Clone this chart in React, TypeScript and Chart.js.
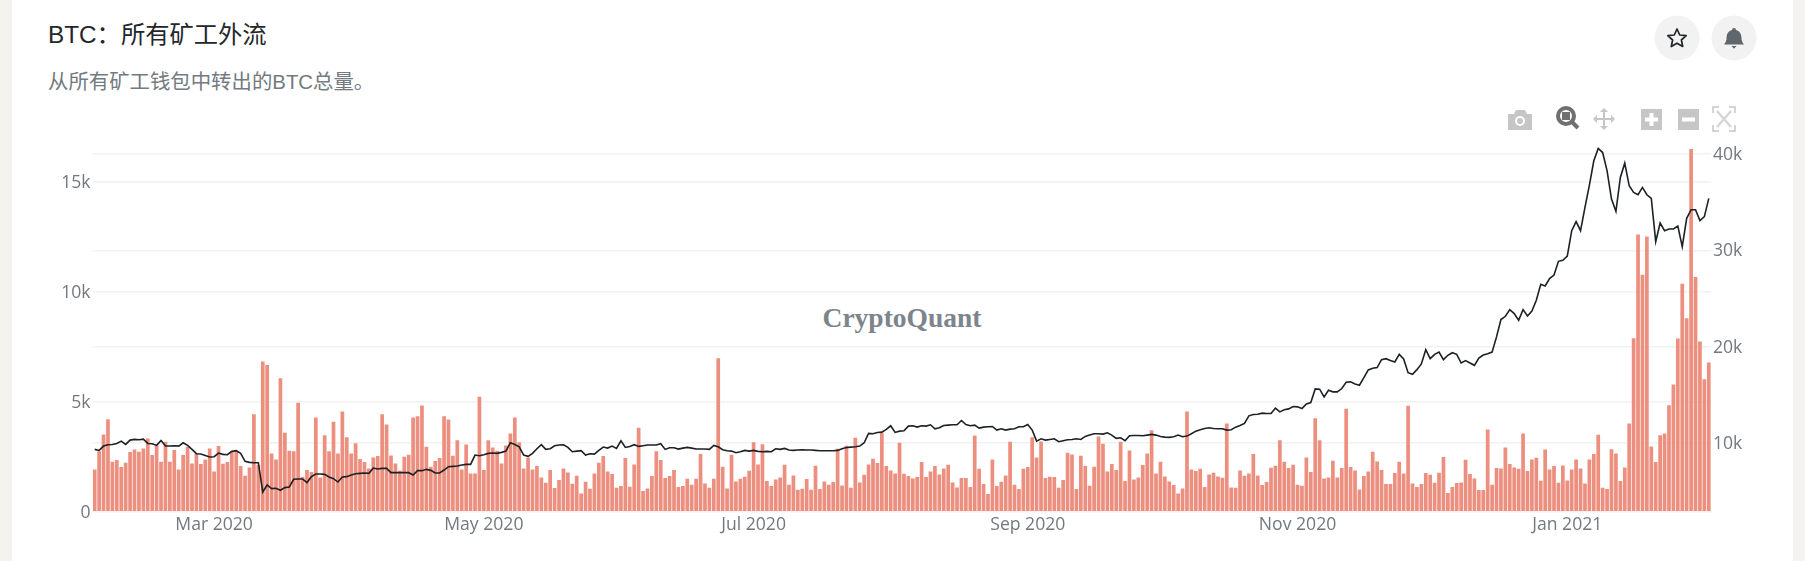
import React, { useEffect, useRef } from "react";
import { Chart, registerables } from "chart.js";

Chart.register(...registerables);

const titleText = "BTC：所有矿工外流";
const subtitleText = "从所有矿工钱包中转出的BTC总量。";
const watermarkText = "CryptoQuant";

const startDate = "2020-02-03";

const outflowValues = [
  1924,2757,3515,4212,2273,2348,2030,2227,2712,2833,2727,2879,3333,2576,3030,2273,3182,2273,2803,1924,2576,2954,2197,2651,2166,2379,2879,1833,2985,2182,2257,2727,2757,2076,1636,2015,4439,2121,6833,6681,2651,2379,6075,3591,2772,2757,4954,1591,1894,1803,4287,1560,3485,2757,4091,2651,4560,3394,2651,3121,2394,2257,1970,2469,2530,4439,3969,2560,2197,1863,2500,2591,4287,4348,4833,2954,2045,2303,2439,4348,4197,2545,3257,1924,3060,1742,1742,5227,
  1894,3257,2924,2772,2197,3015,3560,4287,3166,1970,2469,1924,2076,1560,1318,1894,1076,1439,1970,1788,1273,1636,833,1364,1045,1742,2227,2530,1833,1712,1091,1167,2439,1136,2151,3818,939,1061,1621,2757,2348,1530,1621,1894,1121,1167,1500,1227,1500,2621,1288,1091,1500,6984,2045,1061,2591,1379,1500,1591,1863,3166,2151,3075,1394,1167,1470,1560,2136,1227,1651,1000,1045,1485,1000,2091,1030,1379,1227,1348,2863,1197,3000,1091,3363,1333,1682,2151,2409,2212,
  3591,2076,1879,1742,3136,1727,1621,1515,1576,2257,1576,1833,2076,1697,1970,2136,1333,1106,1530,1530,1121,3469,1954,1257,803,2379,1167,1364,1651,3182,1227,1030,1954,2030,3394,2469,3197,1530,1591,1576,1091,1439,2682,2606,1030,2545,2076,1182,2045,3424,3091,1833,2166,1894,3182,1394,2788,1470,1560,2121,2651,3712,1742,2273,1606,1379,1212,833,1061,4560,1924,1848,1954,1121,1697,1773,1606,1545,4015,1106,1091,1879,1636,1742,2621,1651,1212,1348,2000,2091,
  3257,2273,1985,2136,1227,1182,2469,1803,4257,3257,1515,1560,2318,1560,1985,4681,2030,1879,1015,1621,1833,2727,2288,1894,1257,1257,1757,2273,1742,4818,1288,1121,1257,1757,1682,1318,1773,2485,848,1121,1303,1333,2363,1712,1515,985,985,3742,1227,1985,1970,2924,2166,2015,1954,3560,1848,
  2379,2454,1409,2833,1924,2076,1318,2106,1424,1924,2379,1970,1288,2379,2621,3500,1091,1030,2848,2651,1394,2015,4015,7893,12620,10787,12529,2969,2257,3485,3560,4848,5787,7878,10378,8802,16514,10681,7742,6030,6787,
];

const priceValues = [
  9345,9240,9690,9830,9860,9965,10200,9860,10310,10380,10345,10415,9965,9930,9760,10275,9690,9690,9725,9690,10035,9760,9345,8900,8860,8720,8550,8585,8965,8830,8795,9140,9210,8930,8100,8000,7965,7965,4930,5650,5270,5310,5100,5380,5450,6240,6275,6275,5900,6515,6790,6790,6755,6480,6310,5960,6480,6515,6690,6825,6860,6895,6860,7410,7310,7380,7380,6930,6930,6930,6930,6930,6690,7140,7140,7275,7170,6895,6895,7205,7550,7585,7620,7725,7790,7790,8760,8690,
  8790,8930,8965,8930,9035,9170,10035,9860,9620,8760,8620,8930,9410,9830,9345,9410,9725,9795,9830,9550,9100,9170,9210,8760,8900,8860,9240,9585,9480,9690,9450,10240,9550,9655,9830,9655,9725,9795,9795,9795,9930,9345,9515,9515,9380,9480,9550,9480,9380,9380,9380,9345,9760,9620,9310,9205,9170,9000,9100,9240,9170,9240,9140,9100,9140,9100,9410,9345,9450,9275,9240,9275,9310,9275,9275,9240,9205,9205,9205,9205,9240,9415,9550,9585,9620,9690,10035,11000,10965,11100,
  11140,11415,11795,11105,11240,11275,11760,11795,11655,11795,11760,11900,11480,11590,11830,11865,11900,11900,12345,11930,11795,11865,11550,11655,11690,11725,11345,11480,11345,11450,11480,11690,11690,11930,11345,10205,10450,10310,10380,10450,10140,10240,10345,10380,10450,10380,10690,10830,10965,10965,10930,11070,10830,10485,10550,10240,10760,10795,10795,10760,10830,10900,10830,10690,10620,10590,10655,10830,10655,10725,10965,11240,11380,11520,11590,11520,11485,11485,11345,11380,11655,11830,12035,12830,12970,13000,13105,13070,13070,13620,
  13240,13450,13550,13795,13760,13590,14070,14210,15625,15590,14795,15485,15315,15315,15660,16310,16350,16140,16000,16800,17590,17760,17830,18660,18760,18560,18420,19210,18730,17310,17140,17620,18210,19690,18760,19210,19450,18660,19110,19380,19210,18310,18560,18310,18070,18830,19140,19280,19450,21020,22820,23160,23850,23440,22750,23850,23190,
  23710,24820,26480,26300,27070,27440,28860,28960,29400,32045,32980,32045,34460,36770,39290,40570,40150,38255,35325,34050,37565,39050,36700,36010,35770,36530,35770,35390,30900,32840,32045,32220,32220,32530,30390,33320,34220,34220,33080,33500,35390,
];

const dayLabels = outflowValues.map((_, i) => {
  const d = new Date(startDate + "T00:00:00Z");
  d.setUTCDate(d.getUTCDate() + i);
  return d.toISOString().slice(0, 10);
});

const xTickDates = ["2020-03-01", "2020-05-01", "2020-07-01", "2020-09-01", "2020-11-01", "2021-01-01"];
const xTickLabels = ["Mar 2020", "May 2020", "Jul 2020", "Sep 2020", "Nov 2020", "Jan 2021"];
const leftTicks = [0, 5000, 10000, 15000];
const leftTickLabels = ["0", "5k", "10k", "15k"];
const rightTicks = [10000, 20000, 30000, 40000];
const rightTickLabels = ["10k", "20k", "30k", "40k"];

const leftMax = 16623;
const rightMin = 2880;
const rightMax = 40777;

const tickFont = { family: "'Open Sans'", size: 17.6 };
const tickColor = "#72797f";
const gridColor = "#f2f2f2";

const iconGrey = "#c6c6c6";

function Toolbar() {
  const s: React.CSSProperties = { position: "absolute", left: 0, top: 0 };
  return (
    <svg width={1805} height={561} style={s}>
      {/* favourite and alert buttons */}
      <circle cx={1677} cy={38} r={22.5} fill="#f2f2f2" />
      <circle cx={1734} cy={38} r={22.5} fill="#f2f2f2" />
      <polygon
        points="1677,29 1679.7,35 1686.2,35.7 1681.4,40 1682.7,46.5 1677,43.2 1671.3,46.5 1672.6,40 1667.8,35.7 1674.3,35"
        fill="none"
        stroke="#22262a"
        strokeWidth={1.7}
        strokeLinejoin="round"
      />
      <path
        d="M1734 28 a2 2 0 0 1 2 2 c3.6 1 5.4 3.9 5.4 7.3 c0 3.6 1 5.4 2.6 7.2 h-20 c1.6 -1.8 2.6 -3.6 2.6 -7.2 c0 -3.4 1.8 -6.3 5.4 -7.3 a2 2 0 0 1 2 -2 z M1731.5 46 h5 l-2.5 2.8 z"
        fill="#5f666c"
      />
      {/* camera */}
      <path
        d="M1508 114 h6 l2 -4 h9 l2 4 h5 v16 h-24 z"
        fill={iconGrey}
      />
      <circle cx={1520} cy={121} r={5} fill="#fff" />
      <circle cx={1520} cy={121} r={3} fill={iconGrey} />
      {/* zoom, active */}
      <circle cx={1566} cy={116} r={8} fill="none" stroke="#707070" strokeWidth={4} />
      <rect x={1562} y={112} width={8} height={8} fill="#707070" />
      <line x1={1572} y1={122} x2={1578} y2={128} stroke="#707070" strokeWidth={4} />
      {/* pan */}
      <path
        d="M1604 108 l4 4 h-3 v6 h6 v-3 l4 4 l-4 4 v-3 h-6 v6 h3 l-4 4 l-4 -4 h3 v-6 h-6 v3 l-4 -4 l4 -4 v3 h6 v-6 h-3 z"
        fill={iconGrey}
      />
      {/* zoom in */}
      <rect x={1641} y={109} width={21} height={21} fill={iconGrey} />
      <rect x={1645} y={117.5} width={13} height={4} fill="#fff" />
      <rect x={1649.5} y={113} width={4} height={13} fill="#fff" />
      {/* zoom out */}
      <rect x={1678} y={109} width={21} height={21} fill={iconGrey} />
      <rect x={1682} y={117.5} width={13} height={4} fill="#fff" />
      {/* autoscale */}
      <path
        d="M1713 113 v-6 h6 M1729 107 h6 v6 M1735 125 v6 h-6 M1719 131 h-6 v-6"
        fill="none"
        stroke={iconGrey}
        strokeWidth={1.5}
      />
      <path d="M1717 111 L1731 127 M1731 111 L1717 127" stroke="#d6d6d6" strokeWidth={2.5} />
    </svg>
  );
}

export default function App() {
  const ref = useRef<HTMLCanvasElement | null>(null);

  useEffect(() => {
    document.body.style.margin = "0";
    const chart = new Chart(ref.current as HTMLCanvasElement, {
      type: "bar",
      data: {
        labels: dayLabels,
        datasets: [
          {
            type: "line",
            label: "BTC Price",
            data: priceValues,
            yAxisID: "y2",
            borderColor: "#1d2124",
            borderWidth: 1.6,
            pointRadius: 0,
            tension: 0,
            order: 0,
          },
          {
            type: "bar",
            label: "Outflow",
            data: outflowValues,
            yAxisID: "y",
            backgroundColor: "#ec8f7f",
            barPercentage: 0.84,
            categoryPercentage: 1,
            order: 1,
          },
        ],
      },
      options: {
        animation: false,
        responsive: false,
        maintainAspectRatio: false,
        layout: { padding: { top: 146.5, left: 0, right: 0, bottom: 0 } },
        plugins: { legend: { display: false }, tooltip: { enabled: false }, title: { display: false } },
        scales: {
          x: {
            type: "category",
            offset: true,
            grid: { display: false, drawTicks: false },
            border: { display: false },
            afterBuildTicks: (s: any) => {
              s.ticks = xTickDates.map((d) => ({ value: dayLabels.indexOf(d) }));
            },
            afterFit: (s: any) => {
              s.height = 49.3;
            },
            ticks: {
              autoSkip: false,
              maxRotation: 0,
              minRotation: 0,
              padding: 3,
              font: tickFont,
              color: tickColor,
              callback: (v: any) => xTickLabels[xTickDates.indexOf(dayLabels[v])],
            },
          },
          y: {
            position: "left",
            min: 0,
            max: leftMax,
            grid: { color: gridColor, lineWidth: 1.5, drawTicks: false },
            border: { display: false },
            afterBuildTicks: (s: any) => {
              s.ticks = leftTicks.map((value) => ({ value }));
            },
            afterFit: (s: any) => {
              s.width = 92.5;
            },
            ticks: {
              padding: 2,
              labelOffset: 1,
              font: tickFont,
              color: tickColor,
              callback: (v: any) => leftTickLabels[leftTicks.indexOf(v)],
            },
          },
          y2: {
            position: "right",
            min: rightMin,
            max: rightMax,
            grid: { color: gridColor, lineWidth: 1.5, drawTicks: false },
            border: { display: false },
            afterBuildTicks: (s: any) => {
              s.ticks = rightTicks.map((value) => ({ value }));
            },
            afterFit: (s: any) => {
              s.width = 94;
            },
            ticks: {
              padding: 2,
              labelOffset: 1,
              font: tickFont,
              color: tickColor,
              callback: (v: any) => rightTickLabels[rightTicks.indexOf(v)],
            },
          },
        },
      },
    } as any);
    return () => chart.destroy();
  }, []);

  return (
    <div style={{ position: "absolute", left: 0, top: 0, width: 1805, height: 561, background: "#f5f3f0", overflow: "hidden" }}>
      <div style={{ position: "absolute", left: 12, top: 0, width: 1781, height: 561, background: "#fff" }} />
      <div
        style={{
          position: "absolute",
          left: 48,
          top: 18,
          fontFamily: "'Liberation Sans', 'Noto Sans CJK SC'",
          fontSize: 24.3,
          lineHeight: "34px",
          fontWeight: 400,
          color: "#23272b",
          whiteSpace: "nowrap",
        }}
      >
        {titleText}
      </div>
      <div
        style={{
          position: "absolute",
          left: 48,
          top: 68,
          fontFamily: "'Liberation Sans', 'Noto Sans CJK SC'",
          fontSize: 20.4,
          lineHeight: "28px",
          color: "#737a80",
          whiteSpace: "nowrap",
        }}
      >
        {subtitleText}
      </div>
      <div
        style={{
          position: "absolute",
          left: 822,
          top: 300,
          width: 160,
          textAlign: "center",
          fontFamily: "'Liberation Serif'",
          fontWeight: 700,
          fontSize: 27.5,
          lineHeight: "36px",
          color: "#7d858c",
          whiteSpace: "nowrap",
        }}
      >
        {watermarkText}
      </div>
      <canvas ref={ref} width={1805} height={561} style={{ position: "absolute", left: 0, top: 0, width: 1805, height: 561 }} />
      <Toolbar />
    </div>
  );
}
